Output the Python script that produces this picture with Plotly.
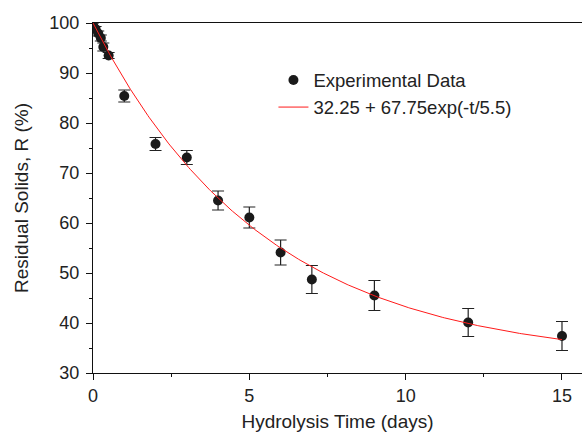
import numpy as np
import plotly.graph_objects as go

# Experimental data
time_days = [0.0, 0.083, 0.167, 0.25, 0.33, 0.5, 1, 2, 3, 4, 5, 6, 7, 9, 12, 15]
residual = [99.6, 98.8, 97.9, 97.0, 95.2, 93.5, 85.4, 75.8, 73.1, 64.5, 61.1, 54.1, 48.7, 45.5, 40.1, 37.4]
err = [0.4, 0.5, 0.5, 0.6, 0.8, 0.6, 1.2, 1.3, 1.4, 1.9, 2.1, 2.5, 2.8, 3.0, 2.8, 2.9]

# Fit parameters: R = A + B*exp(-t/tau)
fit_A = 32.25
fit_B = 67.75
fit_tau = 5.5
fit_label = "32.25 + 67.75exp(-t/5.5)"

t_fit = np.linspace(0, 15, 300)
r_fit = fit_A + fit_B * np.exp(-t_fit / fit_tau)

FONT = "Arial, 'Liberation Sans', Helvetica, sans-serif"

fig = go.Figure()
fig.add_trace(go.Scatter(
    x=time_days, y=residual, mode="markers", name="Experimental Data",
    marker=dict(color="#1a1a1a", size=10),
    error_y=dict(type="data", array=err, visible=True, color="#222222",
                 thickness=1.2, width=6),
))
fig.add_trace(go.Scatter(
    x=t_fit, y=r_fit, mode="lines", name=fit_label,
    line=dict(color="#ff1a1a", width=1),
))

fig.update_layout(
    width=582, height=435,
    margin=dict(l=93, r=0, t=23, b=62),
    paper_bgcolor="white", plot_bgcolor="white",
    font=dict(family=FONT, size=18, color="#222222"),
    showlegend=True,
    legend=dict(x=0.369, y=0.89, xanchor="left", yanchor="top",
                bgcolor="rgba(0,0,0,0)", font=dict(size=18.5, color="#222222"),
                tracegroupgap=0, itemwidth=30),
)
fig.update_xaxes(
    range=[0, 15.64], showgrid=False, zeroline=False,
    showline=True, linecolor="#111111", linewidth=1, mirror=True,
    tickmode="array", tickvals=[0, 5, 10, 15],
    ticks="outside", ticklen=6, tickcolor="#111111",
    minor=dict(tickvals=[2.5, 7.5, 12.5], ticks="outside", ticklen=3, tickcolor="#111111"),
    tickfont=dict(size=18),
    title=dict(text="Hydrolysis Time (days)", font=dict(size=19), standoff=10),
)
fig.update_yaxes(
    range=[30, 100], showgrid=False, zeroline=False,
    showline=True, linecolor="#111111", linewidth=1, mirror=False,
    tickmode="array", tickvals=[30, 40, 50, 60, 70, 80, 90, 100],
    ticks="outside", ticklen=6, tickcolor="#111111",
    ticklabelstandoff=3,
    minor=dict(tickvals=[35, 45, 55, 65, 75, 85, 95], ticks="outside", ticklen=3, tickcolor="#111111"),
    tickfont=dict(size=18),
    title=dict(text="Residual Solids, R (%)", font=dict(size=19), standoff=15),
)

fig.write_html("out.html")
